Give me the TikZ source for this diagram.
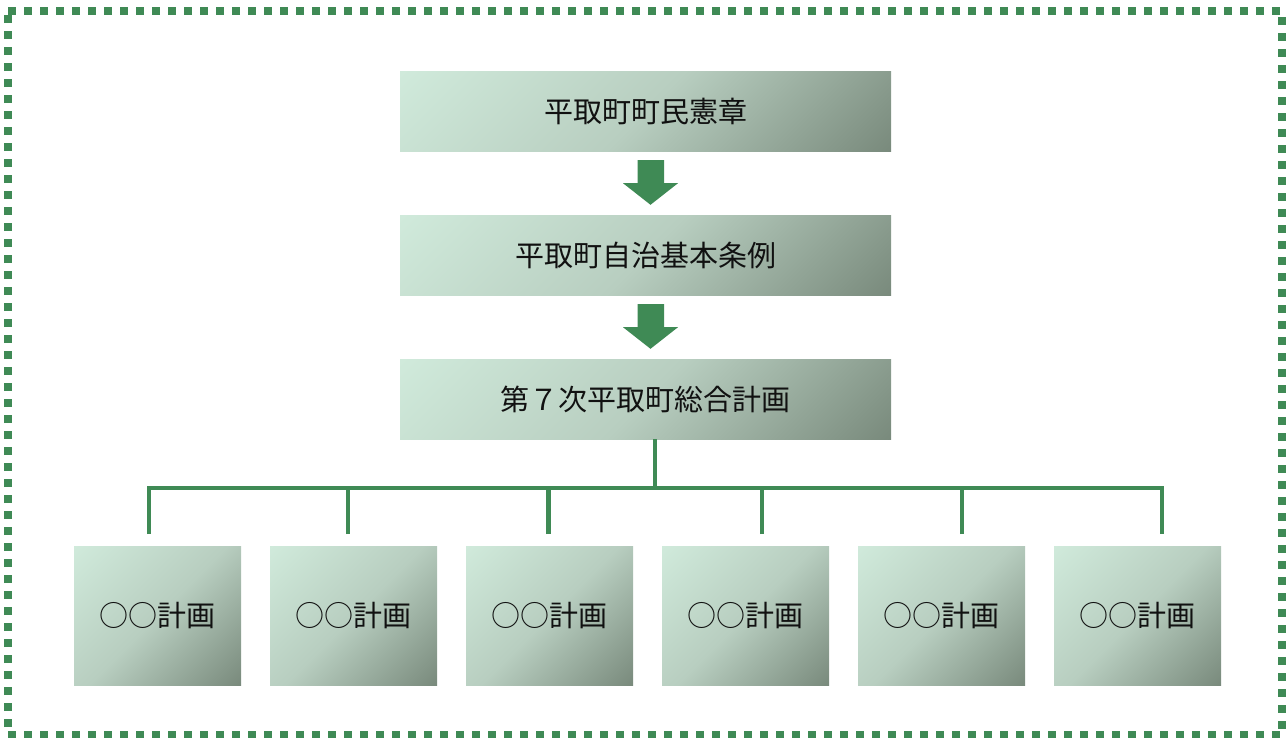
\documentclass[tikz,border=0pt]{standalone}
\usepackage{fontspec}
\newfontfamily\jp{Noto Sans CJK JP}
\usetikzlibrary{calc}
\definecolor{grn}{HTML}{3F8A55}
\definecolor{cl}{HTML}{D0EADB}
\definecolor{cm}{HTML}{B8CEC0}
\definecolor{cd}{HTML}{798A7C}
\definecolor{txt}{HTML}{111111}
\pgfdeclarehorizontalshading{boxshade}{100bp}{color(0bp)=(cl); color(32.3bp)=(cl); color(50bp)=(cm); color(67.7bp)=(cd); color(100bp)=(cd)}
\begin{document}
\begin{tikzpicture}[x=1pt,y=-1pt,
  txtstyle/.style={font=\jp\fontsize{29}{35}\selectfont, text=txt, inner sep=0pt},
  topbox/.style={txtstyle, minimum width=491pt, minimum height=80pt,
    path picture={\shade[shading=boxshade,shading angle=-45]
      ([shift={(-285.5pt,-285.5pt)}]path picture bounding box.center) rectangle ++(571pt,571pt);}},
  planbox/.style={txtstyle, minimum width=167pt, minimum height=139pt,
    path picture={\shade[shading=boxshade,shading angle=-45]
      ([shift={(-153pt,-153pt)}]path picture bounding box.center) rectangle ++(306pt,306pt);}},
  conn/.style={draw=grn, line width=4.5pt},
  blockarrow/.style={fill=grn},
  frame/.style={draw=grn, line width=8pt, dash pattern=on 8pt off 8pt}
]
\useasboundingbox (0,0) rectangle (1287,737);
\draw[frame] (8,11) -- (1282,11) -- (1282,735) -- (8,735) -- cycle;

\node[topbox] (t1) at (645.5,111) {平取町町民憲章};
\node[topbox] (t2) at (645.5,255) {平取町自治基本条例};
\node[topbox] (t3) at (645.5,399) {第７次平取町総合計画};

\foreach \i in {1,...,6}{
  \node[planbox] (p\i) at ({157.5+196*(\i-1)},615.5) {○○計画};
}

% block arrows
\foreach \a/\b in {t1/t2, t2/t3}{
  \fill[blockarrow] ($(\a.south)+(-8,9)$) -- ($(\a.south)+(18.5,9)$) -- ($(\a.south)+(18.5,32)$)
    -- ($(\a.south)+(32.5,32)$) -- ($(\b.north)+(5,-10)$) -- ($(\a.south)+(-22.5,32)$)
    -- ($(\a.south)+(-8,32)$) -- cycle;
}

% tree connectors
\coordinate (s) at ($(t3.south)+(9.5,0)$);
\coordinate (j) at (655,488);
\coordinate (d1) at (149,534);
\coordinate (d2) at (348,534);
\coordinate (d3) at (548.5,534);
\coordinate (d4) at (762,534);
\coordinate (d5) at (962,534);
\coordinate (d6) at (1162,534);
\draw[conn] (s) -- (j);
\draw[conn] (d1) |- (j) -| (d6);
\foreach \k in {2,...,5}{\draw[conn] (d\k) -- (d\k |- j);}
\end{tikzpicture}
\end{document}
